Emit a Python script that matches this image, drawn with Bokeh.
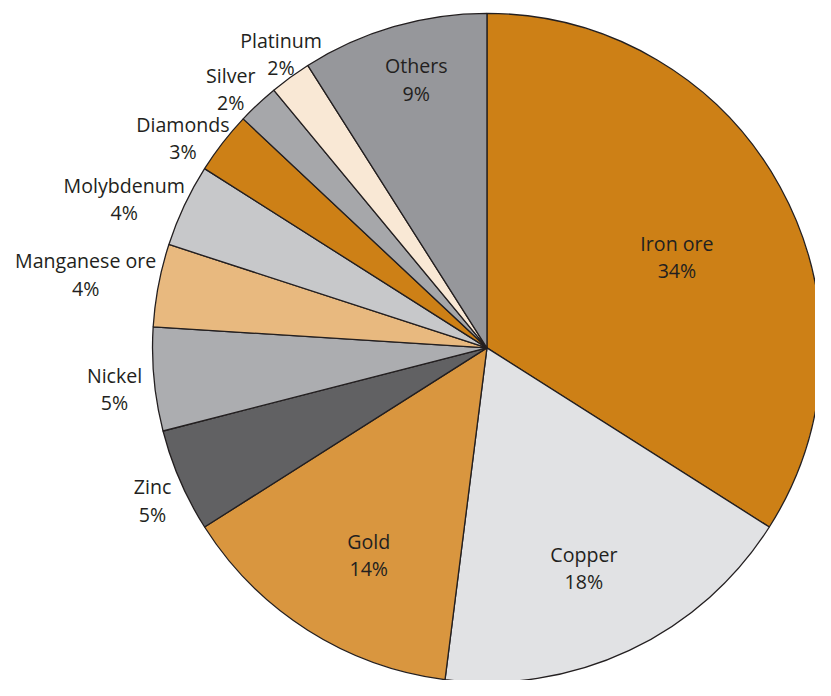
import math
from bokeh.plotting import figure
from bokeh.models import Range1d, ColumnDataSource
from bokeh.core.properties import value
from bokeh.embed import file_html
from bokeh.resources import INLINE

# ---- data ----
minerals = ["Iron ore", "Copper", "Gold", "Zinc", "Nickel", "Manganese ore",
            "Molybdenum", "Diamonds", "Silver", "Platinum", "Others"]
shares = [34, 18, 14, 5, 5, 4, 4, 3, 2, 2, 9]

# ---- style / layout ----
colors = ["#CD8016", "#E1E2E4", "#D9963F", "#616163", "#ACADB0", "#E8B97F",
          "#C7C8CA", "#CD8016", "#A6A7AA", "#F9E8D5", "#96979B"]
label_r = [215, 246, 244, 375, 382, 416, 400, 377, 372, 367, 284]
label_tweak = [3.1, 1.5, -2.8, -1.2, -0.9, -0.4, -2.8, -3.1, -1.4, 1.1, 1.5]

W, H = 815, 680
FW, FH = 831, 696          # frame of the chart in data units
cx, cy = 496, FH - 355.5
R = 341

total = float(sum(shares))
starts, ends, lx, ly = [], [], [], []
acc = 0.0
for i, s in enumerate(shares):
    t1 = acc / total * 360.0
    t2 = (acc + s) / total * 360.0
    acc += s
    # clockwise-from-top -> bokeh anticlockwise-from-x
    starts.append(math.radians(90 - t2))
    ends.append(math.radians(90 - t1))
    mid = (t1 + t2) / 2 + label_tweak[i]
    a = math.radians(90 - mid)
    lx.append(cx + label_r[i] * math.cos(a))
    ly.append(cy + label_r[i] * math.sin(a))

src = ColumnDataSource(dict(
    name=minerals, pct=[f"{s}%" for s in shares],
    start=starts, end=ends, color=colors,
    lx=lx, ly_top=[y + 14 for y in ly], ly_bot=[y - 14 for y in ly],
))

p = figure(width=W, height=H, output_backend="svg", toolbar_location=None,
           x_range=Range1d(0, FW), y_range=Range1d(0, FH),
           min_border=0)
p.axis.visible = False
p.grid.visible = False
p.outline_line_color = None
p.background_fill_color = "white"

p.wedge(x=cx, y=cy, radius=R, start_angle="start", end_angle="end",
        fill_color="color", line_color="#231F20", line_width=1.3, source=src)

for col, ycol in (("name", "ly_top"), ("pct", "ly_bot")):
    p.text(x="lx", y=ycol, text=col, source=src, text_align="center",
           text_baseline="middle", text_font=value("Open Sans"),
           text_font_size="19.6px", text_color="#231F20")

open("out.html", "w").write(file_html(p, INLINE))
